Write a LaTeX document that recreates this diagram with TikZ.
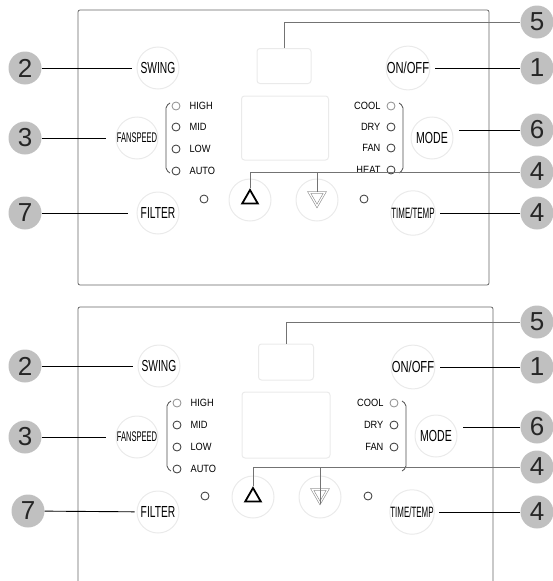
\documentclass[tikz,border=0pt]{standalone}
\usepackage{fontspec}
\setmainfont{Liberation Sans}
\usepackage{graphicx}
\usetikzlibrary{shapes.geometric}
\definecolor{callgray}{RGB}{192,192,192}
\definecolor{ringgray}{RGB}{234,234,234}
\newcommand{\narrow}[2]{\scalebox{#1}[1]{#2}}

\begin{document}
\begin{tikzpicture}[x=1pt,y=-1pt]
    \tikzstyle{panel}=[draw=black!60, line width=0.8pt, rounded corners=2pt]
    \tikzstyle{callout}=[circle, fill=callgray, minimum size=33pt, inner sep=0pt, font=\fontsize{26}{26}\selectfont, text=black!85]
    \tikzstyle{btn}=[circle, draw=ringgray, line width=1pt, minimum size=42pt, inner sep=0pt, font=\fontsize{16}{16}\selectfont]
    \tikzstyle{led}=[circle, draw=black!80, line width=0.8pt, minimum size=8pt, inner sep=0pt]
    \tikzstyle{ledoff}=[led, draw=black!45]
    \tikzstyle{ledtxt}=[inner sep=0pt, font=\fontsize{10.5}{10.5}\selectfont]
    \tikzstyle{disp}=[draw=ringgray, line width=1pt, rounded corners=3pt, inner sep=0pt]
    \tikzstyle{tri}=[regular polygon, regular polygon sides=3, minimum size=18pt, inner sep=0pt]
    \tikzstyle{lead}=[draw=black, line width=0.9pt]
    \tikzstyle{glead}=[draw=black!55, line width=0.9pt]
    \tikzstyle{brk}=[draw=black!70, line width=0.8pt, rounded corners=2pt]

    \useasboundingbox (0,0) rectangle (552,581);

    % upper panel
    \def\oy{0}
    \def\dx{0}

    \draw[panel] (78,10) rectangle (489,285);

    \node[disp, minimum width=54pt, minimum height=35pt] (0dsmall) at (\dx+284,\oy+66) {};
    \node[disp, minimum width=87pt, minimum height=64pt] (0dbig) at (\dx+285,\oy+128) {};

    \node[btn] (0swing) at (158,\oy+68) {\narrow{0.64}{SWING}};
    \node[btn, font=\fontsize{14}{14}\selectfont] (0fan) at (137,\oy+138) {\narrow{0.54}{FANSPEED}};
    \node[btn] (0filter) at (158,\oy+213) {\narrow{0.64}{FILTER}};
    \node[btn] (0onoff) at (\dx+408,\oy+68) {\narrow{0.7}{ON/OFF}};
    \node[btn] (0mode) at (\dx+432,\oy+138) {\narrow{0.66}{MODE}};
    \node[btn, font=\fontsize{15}{15}\selectfont] (0time) at (\dx+413,\oy+213) {\narrow{0.53}{TIME/TEMP}};
    \node[btn] (0upb) at (\dx+250,\oy+200) {};
    \node[btn] (0dnb) at (\dx+317,\oy+200) {};
    \node[tri, draw=black, line width=1.8pt] (0up) at (\dx+250,\oy+199) {};
    \node[tri, draw=black!45, double=white, double distance=1.2pt, line width=0.6pt, shape border rotate=180] (0dn) at (\dx+317,\oy+197) {};

    \node[ledoff] (0high) at (176,\oy+106) {};
    \node[led] (0mid) at (176,\oy+127) {};
    \node[led] (0low) at (176,\oy+149) {};
    \node[led] (0auto) at (176,\oy+171) {};
    \node[ledtxt, anchor=west] (0thigh) at ([xshift=9pt]0high.east) {\narrow{0.88}{HIGH}};
    \node[ledtxt, anchor=west] (0tmid) at ([xshift=9pt]0mid.east) {\narrow{0.88}{MID}};
    \node[ledtxt, anchor=west] (0tlow) at ([xshift=9pt]0low.east) {\narrow{0.88}{LOW}};
    \node[ledtxt, anchor=west] (0tauto) at ([xshift=9pt]0auto.east) {\narrow{0.88}{AUTO}};
    \draw[brk] (170,\oy+103) -- (166,\oy+106) -- (166,\oy+170) -- (170,\oy+173);

    \node[ledoff] (0cool) at (\dx+391,\oy+106) {};
    \node[led] (0dry) at (\dx+391,\oy+127) {};
    \node[led] (0fanm) at (\dx+391,\oy+148) {};
    \node[led] (0heat) at (\dx+391,\oy+170) {};
    \node[ledtxt, anchor=east] (0tcool) at ([xshift=-6pt]0cool.west) {\narrow{0.88}{COOL}};
    \node[ledtxt, anchor=east] (0tdry) at ([xshift=-6pt]0dry.west) {\narrow{0.88}{DRY}};
    \node[ledtxt, anchor=east] (0tfanm) at ([xshift=-6pt]0fanm.west) {\narrow{0.88}{FAN}};
    \node[ledtxt, anchor=east] (0theat) at ([xshift=-6pt]0heat.west) {\narrow{0.88}{HEAT}};
    \draw[brk] (\dx+399,\oy+103) -- (\dx+403,\oy+106) -- (\dx+403,\oy+170) -- (\dx+399,\oy+173);

    \node[led] (0fled) at (204,\oy+199) {};
    \node[led] (0tled) at (\dx+364,\oy+199) {};

    \node[callout] (0c2) at (25,\oy+68) {2};
    \node[callout] (0c3) at (25,\oy+138) {3};
    \node[callout] (0c7) at (25,\oy+213) {7};
    \node[callout] (0c5) at (537,\oy+22) {5};
    \node[callout] (0c1) at (537,\oy+68) {1};
    \node[callout] (0c6) at (537,\oy+130) {6};
    \node[callout] (0c4a) at (537,\oy+172) {4};
    \node[callout] (0c4b) at (537,\oy+213) {4};

    \draw[lead, shorten >=5pt] (0c2) -- (0swing);
    \draw[lead, shorten >=10pt] (0c3) -- (0fan);
    \draw[lead, shorten >=9pt] (0c7) -- (0filter);
    \draw[lead, shorten >=5pt] (0c1) -- (0onoff);
    \draw[lead, shorten >=5pt] (0c6.west) -- (0c6 -| 0mode.east);
    \draw[lead, shorten >=4pt] (0c4b) -- (0time);
    \draw[glead] (0dsmall.north) |- (0c5.west);
    \draw[glead] (0up.north) |- (0c4a.west);
    \draw[glead] (0dn.north) -- (0dn.north |- 0c4a.west);

    % lower panel
    \def\oy{298}
    \def\dx{3}

    \draw[panel] (78,581) |- (493,307) -- (493,581);

    \node[disp, minimum width=55pt, minimum height=36pt] (1dsmall) at (\dx+283,\oy+64) {};
    \node[disp, minimum width=88pt, minimum height=66pt] (1dbig) at (\dx+283,\oy+127) {};

    \node[btn] (1swing) at (159,\oy+68) {\narrow{0.64}{SWING}};
    \node[btn, font=\fontsize{14}{14}\selectfont] (1fan) at (137,\oy+139) {\narrow{0.54}{FANSPEED}};
    \node[btn] (1filter) at (158,\oy+214) {\narrow{0.64}{FILTER}};
    \node[btn] (1onoff) at (\dx+410,\oy+69) {\narrow{0.7}{ON/OFF}};
    \node[btn] (1mode) at (\dx+433,\oy+138) {\narrow{0.66}{MODE}};
    \node[btn, font=\fontsize{15}{15}\selectfont] (1time) at (\dx+409,\oy+214) {\narrow{0.53}{TIME/TEMP}};
    \node[btn] (1upb) at (\dx+250,\oy+199) {};
    \node[btn] (1dnb) at (\dx+317,\oy+199) {};
    \node[tri, draw=black, line width=1.8pt] (1up) at (\dx+250,\oy+199) {};
    \node[tri, draw=black!45, double=white, double distance=1.2pt, line width=0.6pt, shape border rotate=180] (1dn) at (\dx+317,\oy+196) {};

    \node[ledoff] (1high) at (177,\oy+105) {};
    \node[led] (1mid) at (177,\oy+127) {};
    \node[led] (1low) at (177,\oy+149) {};
    \node[led] (1auto) at (177,\oy+171) {};
    \node[ledtxt, anchor=west] (1thigh) at ([xshift=9pt]1high.east) {\narrow{0.88}{HIGH}};
    \node[ledtxt, anchor=west] (1tmid) at ([xshift=9pt]1mid.east) {\narrow{0.88}{MID}};
    \node[ledtxt, anchor=west] (1tlow) at ([xshift=9pt]1low.east) {\narrow{0.88}{LOW}};
    \node[ledtxt, anchor=west] (1tauto) at ([xshift=9pt]1auto.east) {\narrow{0.88}{AUTO}};
    \draw[brk] (171,\oy+103) -- (167,\oy+106) -- (167,\oy+170) -- (171,\oy+173);

    \node[ledoff] (1cool) at (\dx+391,\oy+105) {};
    \node[led] (1dry) at (\dx+391,\oy+127) {};
    \node[led] (1fanm) at (\dx+391,\oy+149) {};
    \node[ledtxt, anchor=east] (1tcool) at ([xshift=-6pt]1cool.west) {\narrow{0.88}{COOL}};
    \node[ledtxt, anchor=east] (1tdry) at ([xshift=-6pt]1dry.west) {\narrow{0.88}{DRY}};
    \node[ledtxt, anchor=east] (1tfanm) at ([xshift=-6pt]1fanm.west) {\narrow{0.88}{FAN}};
    \draw[brk] (\dx+399,\oy+103) -- (\dx+403,\oy+106) -- (\dx+403,\oy+170) -- (\dx+399,\oy+173);

    \node[led] (1fled) at (205,\oy+198) {};
    \node[led] (1tled) at (\dx+365,\oy+198) {};

    \node[callout] (1c2) at (25,\oy+68) {2};
    \node[callout] (1c3) at (25,\oy+139) {3};
    \node[callout] (1c7) at (28,\oy+213) {7};
    \node[callout] (1c5) at (537,\oy+24) {5};
    \node[callout] (1c1) at (537,\oy+69) {1};
    \node[callout] (1c6) at (537,\oy+129) {6};
    \node[callout] (1c4a) at (537,\oy+169) {4};
    \node[callout] (1c4b) at (537,\oy+214) {4};

    \draw[lead, shorten >=5pt] (1c2) -- (1swing);
    \draw[lead, shorten >=10pt] (1c3) -- (1fan);
    \draw[lead, shorten >=2pt] (1c7) -- (1filter);
    \draw[lead, shorten >=5pt] (1c1) -- (1onoff);
    \draw[lead, shorten >=5pt] (1c6.west) -- (1c6 -| 1mode.east);
    \draw[lead, shorten >=4pt] (1c4b) -- (1time);
    \draw[glead] (1dsmall.north) |- (1c5.west);
    \draw[glead] (1up.north) |- (1c4a.west);
    \draw[glead] (1dn.south) -- (1dn.north |- 1c4a.west);

\end{tikzpicture}
\end{document}
